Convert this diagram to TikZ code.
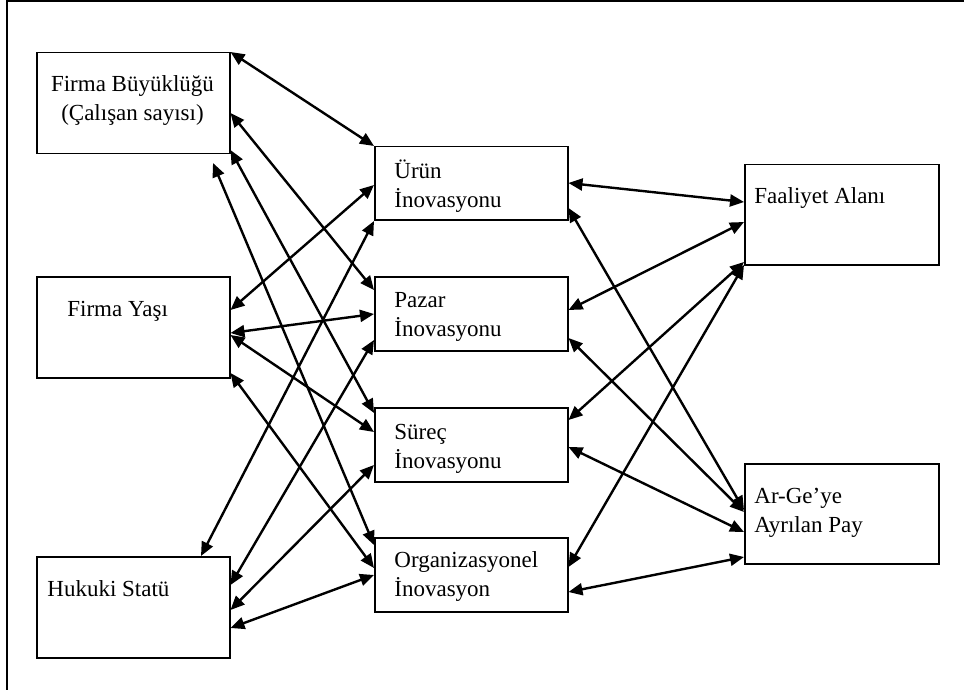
\documentclass[tikz,border=0pt]{standalone}
\usepackage{fontspec}
\setmainfont{Liberation Serif}
\usetikzlibrary{arrows.meta}
\begin{document}
\begin{tikzpicture}[x=0.5pt,y=-0.5pt,
  box/.style={draw, line width=0.75pt, inner sep=0pt, anchor=north west},
  lbl/.style={font=\fontsize{11.5}{14.5}\selectfont, inner sep=0pt, anchor=base west, align=left},
  link/.style={line width=1.2pt, {Triangle[length=7pt,width=6pt]}-{Triangle[length=7pt,width=6pt]}}]
\useasboundingbox (0,0) rectangle (964,690);
\draw[line width=0.75pt] (964,1) -- (7,1) -- (7,690);
% left boxes
\node[box, minimum width=96.5pt, minimum height=50.5pt] (FB) at (36,52) {};
\node[box, minimum width=96.5pt, minimum height=50.5pt] (FY) at (36,276) {};
\node[box, minimum width=96.5pt, minimum height=50.5pt] (HS) at (36,556) {};
% middle boxes
\node[box, minimum width=96.5pt, minimum height=36.5pt] (UR) at (374,146) {};
\node[box, minimum width=96.5pt, minimum height=37pt] (PZ) at (374,276) {};
\node[box, minimum width=96.5pt, minimum height=37pt] (SR) at (374,407) {};
\node[box, minimum width=96.5pt, minimum height=37pt] (OR) at (374,537) {};
% right boxes
\node[box, minimum width=97pt, minimum height=50pt] (FA) at (744,164) {};
\node[box, minimum width=97pt, minimum height=50pt] (AG) at (744,463) {};
% texts (anchor = baseline of the last line)
\node[lbl, align=center, anchor=base] (FBt) at (132.5,121) {Firma Büyüklüğü\\(Çalışan sayısı)};
\node[lbl] (FYt) at (67,316) {Firma Yaşı};
\node[lbl] (HSt) at (47,596) {Hukuki Statü};
\node[lbl] (URt) at (394,207) {Ürün\\İnovasyonu};
\node[lbl] (PZt) at (394,336) {Pazar\\İnovasyonu};
\node[lbl] (SRt) at (394,468) {Süreç\\İnovasyonu};
\node[lbl] (ORt) at (394,596) {Organizasyonel\\İnovasyon};
\node[lbl] (FAt) at (754,204) {Faaliyet Alanı};
\node[lbl] (AGt) at (754,532) {Ar-Ge’ye\\Ayrılan Pay};
% free end below Firma Büyüklüğü
\coordinate (FBf) at (213,163);
% left connectors
\draw[link] (FB.north east) -- (UR.north west);
\draw[link] (FB.east |- 0,113) -- (PZ.west |- 0,290);
\draw[link] (FB.east |- 0,150) -- (SR.west |- 0,413);
\draw[link] (FBf) -- (OR.west |- 0,545);
\draw[link] (FY.east |- 0,310) -- (UR.west |- 0,185);
\draw[link] (FY.east |- 0,333) -- (PZ.west |- 0,314);
\draw[link] (FY.east |- 0,335) -- (SR.west |- 0,432);
\draw[link] (FY.east |- 0,373) -- (OR.west |- 0,568);
\draw[link] (HS.north -| 201,0) -- (UR.west |- 0,221);
\draw[link] (HS.east |- 0,585) -- (PZ.west |- 0,340);
\draw[link] (HS.east |- 0,610) -- (SR.west |- 0,465);
\draw[link] (HS.east |- 0,628) -- (OR.west |- 0,575);
% right connectors
\draw[link] (UR.east |- 0,183) -- (FA.west |- 0,202);
\draw[link] (UR.east |- 0,208) -- (AG.west |- 0,510);
\draw[link] (PZ.east |- 0,310) -- (FA.west |- 0,222);
\draw[link] (PZ.east |- 0,338) -- (AG.west |- 0,512);
\draw[link] (SR.east |- 0,420) -- (FA.west |- 0,262);
\draw[link] (SR.east |- 0,447) -- (AG.west |- 0,532);
\draw[link] (OR.east |- 0,567) -- (FA.west |- 0,265);
\draw[link] (OR.east |- 0,592) -- (AG.west |- 0,557);
\end{tikzpicture}
\end{document}
